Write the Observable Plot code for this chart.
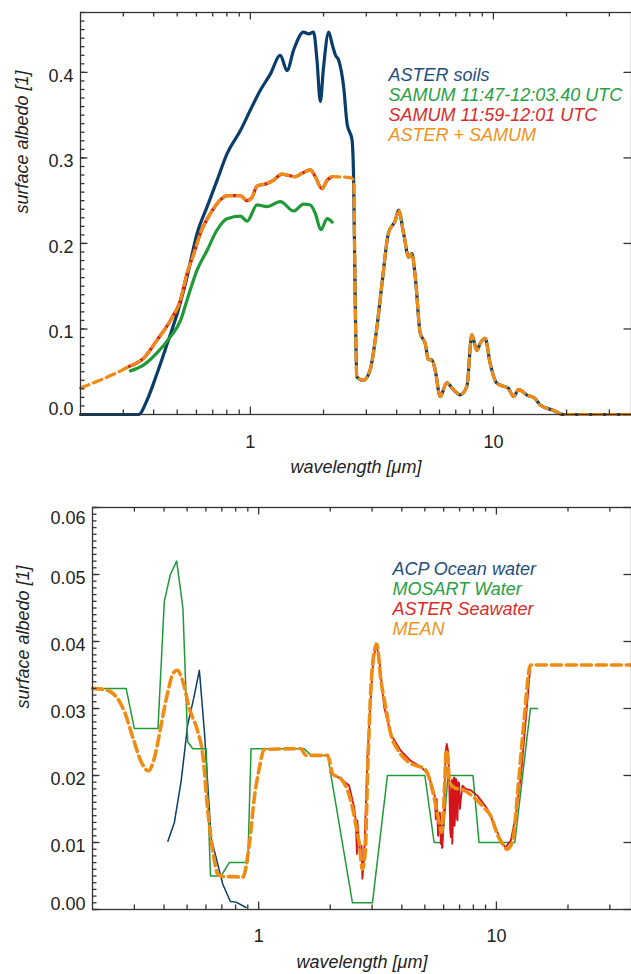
<!DOCTYPE html>
<html><head><meta charset="utf-8">
<script src="https://cdn.jsdelivr.net/npm/d3@7"></script>
<script src="https://cdn.jsdelivr.net/npm/@observablehq/plot@0.6"></script>
<style>
body{margin:0;background:#fff;overflow:hidden}
#chart{width:631px;height:974px;position:relative}
#chart svg{display:block}
</style></head><body><div id="chart"></div>
<script>
// ---------- TOP PANEL DATA (wavelength µm, surface albedo) ----------
const soilWl  = [0.2,0.347,0.376,0.413,0.455,0.5,0.549,0.604,0.664,0.73,0.802,0.91,1.0,1.099,1.208,1.328,1.415,1.506,1.655,1.737,1.82,1.88,1.94,2.0,2.1,2.17,2.24,2.31,2.42,2.5,2.62,2.66,2.7,2.74,2.92,3.11,3.32,3.48,3.7,3.95,4.07,4.27,4.48,4.62,4.77,5.0,5.24,5.41,5.58,5.76,6.04,6.43,6.85,7.3,7.78,8.15,8.55,8.82,9.25,9.69,10.3,11.0,11.5,12.1,12.7,13.7,14.8,15.6,17.6,19.4,37];
const soilAlb = [0,0,0.017,0.048,0.083,0.118,0.161,0.212,0.243,0.274,0.305,0.332,0.356,0.379,0.398,0.42,0.402,0.426,0.447,0.445,0.447,0.414,0.366,0.406,0.447,0.433,0.42,0.414,0.383,0.34,0.321,0.274,0.134,0.044,0.04,0.052,0.103,0.153,0.212,0.227,0.239,0.212,0.184,0.188,0.161,0.095,0.083,0.064,0.064,0.052,0.021,0.037,0.029,0.023,0.033,0.093,0.075,0.083,0.089,0.06,0.037,0.033,0.031,0.021,0.029,0.023,0.019,0.011,0.005,0,0];

const samumAWl  = [0.321,0.364,0.413,0.469,0.516,0.549,0.604,0.664,0.73,0.802,0.91,0.969,1.065,1.17,1.328,1.506,1.655,1.765,1.85,1.95,2.07,2.17];
const samumAAlb = [0.051,0.058,0.072,0.091,0.11,0.134,0.169,0.192,0.216,0.229,0.232,0.226,0.245,0.243,0.249,0.238,0.246,0.245,0.235,0.216,0.229,0.225];

const samumBWl  = [0.316,0.364,0.413,0.469,0.516,0.549,0.585,0.623,0.685,0.753,0.802,0.91,0.969,1.016,1.065,1.17,1.247,1.349,1.415,1.53,1.63,1.765,1.85,1.97,2.07,2.17];
const samumBAlb = [0.056,0.066,0.087,0.11,0.134,0.165,0.188,0.212,0.235,0.251,0.256,0.256,0.25,0.254,0.267,0.27,0.274,0.281,0.28,0.278,0.282,0.286,0.278,0.264,0.274,0.278];

const comboWl  = [0.2,0.316,0.364,0.413,0.469,0.516,0.549,0.585,0.623,0.685,0.753,0.802,0.91,0.969,1.016,1.065,1.17,1.247,1.349,1.415,1.53,1.63,1.765,1.85,1.97,2.07,2.17,2.58,2.66,2.7,2.74,2.92,3.11,3.32,3.48,3.7,3.95,4.07,4.27,4.48,4.62,4.77,5.0,5.24,5.41,5.58,5.76,6.04,6.43,6.85,7.3,7.78,8.15,8.55,8.82,9.25,9.69,10.3,11.0,11.5,12.1,12.7,13.7,14.8,15.6,17.6,19.4,37];
const comboAlb = [0.031,0.056,0.066,0.087,0.11,0.134,0.165,0.188,0.212,0.235,0.251,0.256,0.256,0.25,0.254,0.267,0.27,0.274,0.281,0.28,0.278,0.282,0.286,0.278,0.264,0.274,0.278,0.277,0.274,0.134,0.044,0.04,0.052,0.103,0.153,0.212,0.227,0.239,0.212,0.184,0.188,0.161,0.095,0.083,0.064,0.064,0.052,0.021,0.037,0.029,0.023,0.033,0.093,0.075,0.083,0.089,0.06,0.037,0.033,0.031,0.021,0.029,0.023,0.019,0.011,0.005,0,0];

const topLegend = ["ASTER soils", "SAMUM 11:47-12:03.40 UTC", "SAMUM 11:59-12:01 UTC", "ASTER + SAMUM"];

// ---------- BOTTOM PANEL DATA ----------
const acpWl  = [0.415,0.442,0.472,0.503,0.533,0.563,0.591,0.631,0.706,0.76,0.803,0.885];
const acpAlb = [0.0102,0.013,0.0192,0.0276,0.0315,0.0357,0.0266,0.0107,0.0038,0.0012,0.0011,0.0003];

const mosartWl  = [0.2,0.277,0.3,0.377,0.401,0.425,0.452,0.48,0.503,0.528,0.601,0.627,0.695,0.752,0.9,0.929,1.555,1.66,1.95,2.48,3.01,3.48,5.0,5.47,5.93,6.26,7.97,8.45,11.95,13.9,14.9];
const mosartAlb = [0.033,0.033,0.027,0.027,0.046,0.05,0.052,0.045,0.025,0.024,0.024,0.005,0.005,0.007,0.007,0.024,0.024,0.023,0.023,0.001,0.001,0.02,0.02,0.01,0.01,0.02,0.02,0.01,0.01,0.03,0.03];

const seaWl  = [2.0,2.05,2.22,2.4,2.52,2.56,2.59,2.6,2.65,2.69,2.71,2.73,2.78,2.87,3.01,3.11,3.21,3.37,3.59,3.96,4.36,4.81,5.13,5.38,5.5,5.56,5.6,5.64,5.68,5.74,5.78,5.8,5.83,5.87,5.9,5.93,5.96,6.02,6.07,6.12,6.18,6.26,6.32,6.39,6.43,6.46,6.49,6.52,6.55,6.6,6.64,6.67,6.7,6.75,6.79,6.83,6.86,6.92,6.97,7.02,7.08,7.2,7.43,7.8,8.32,9.17,9.62,10.3,10.9,11.5,12.1,12.7,13.1,13.9];
const seaAlb = [0.0205,0.0202,0.0195,0.0185,0.0153,0.0133,0.0083,0.0133,0.0093,0.0078,0.0095,0.0046,0.0083,0.0233,0.0357,0.0397,0.0377,0.0302,0.0262,0.0237,0.0222,0.0213,0.0203,0.0183,0.017,0.0135,0.0165,0.0148,0.011,0.0123,0.0145,0.0135,0.0098,0.0125,0.0092,0.0093,0.012,0.0143,0.0193,0.0237,0.0247,0.0237,0.0207,0.0118,0.0108,0.0175,0.0193,0.0098,0.0118,0.0195,0.0197,0.0125,0.0138,0.0195,0.0193,0.0135,0.0133,0.019,0.0188,0.015,0.0163,0.0185,0.018,0.0178,0.017,0.015,0.0133,0.0108,0.0092,0.0103,0.0143,0.0203,0.0257,0.0365];

const meanWl  = [0.2,0.232,0.251,0.272,0.296,0.32,0.344,0.364,0.389,0.415,0.436,0.454,0.48,0.511,0.554,0.582,0.611,0.641,0.673,0.718,0.789,0.856,0.914,0.959,1.006,1.056,1.505,1.58,1.95,2.05,2.22,2.37,2.48,2.56,2.65,2.73,2.81,2.87,2.96,3.06,3.14,3.26,3.43,3.6,3.84,4.23,4.66,4.96,5.21,5.47,5.69,5.88,5.98,6.07,6.15,6.2,6.35,6.64,7.3,8.05,8.87,9.46,10.1,10.6,11.1,11.7,12.3,13.1,13.9,37];
const meanAlb = [0.033,0.0327,0.0318,0.0296,0.0256,0.0221,0.0207,0.0226,0.0276,0.0325,0.0352,0.0357,0.034,0.03,0.0266,0.0231,0.0147,0.0088,0.0053,0.0049,0.0049,0.0048,0.0098,0.0167,0.0211,0.0239,0.024,0.023,0.023,0.0202,0.0195,0.0177,0.0152,0.0127,0.0098,0.006,0.0088,0.02,0.0325,0.0385,0.0396,0.0345,0.03,0.0261,0.0239,0.0221,0.0214,0.0211,0.0197,0.0167,0.0137,0.0115,0.0143,0.0193,0.0237,0.0237,0.019,0.0182,0.0178,0.0167,0.0152,0.014,0.0112,0.0098,0.009,0.0102,0.0177,0.0286,0.0365,0.0365];

const bottomLegend = ["ACP Ocean water", "MOSART Water", "ASTER Seawater", "MEAN"];

// ---------- AXES ----------
const xLabelTicks = [1, 10];
const xMinorTicks = [0.3,0.4,0.5,0.6,0.7,0.8,0.9,2,3,4,5,6,7,8,9,20,30];
const yTopMajor = [0, 0.1, 0.2, 0.3, 0.4];
const yBotMajor = [0, 0.01, 0.02, 0.03, 0.04, 0.05, 0.06];
const xTitle = "wavelength [μm]";
const yTitle = "surface albedo [1]";

const lineColors = ["#0a3d6b", "#1f9a36", "#d3141a", "#f08c14"];
const legendColors = ["#1f4e80", "#27a043", "#d92a2a", "#f0921c"];

const pair = (w, a) => w.map((d, i) => ({w: d, a: a[i]}));
const FONT = "'Liberation Sans', Arial, Helvetica, sans-serif";
const AX = "#333";

function axesMarks({fw, fh, yMajor, yMinor, fmt, labelDy, xPad, xTitleDy, yTitleDx, legend, legendDx, legendDy}) {
  const n = yMajor.length;
  const tx = (vals, len, atTop) => Plot.tickX(vals, {x: d => d, stroke: AX, strokeWidth: 1.3,
    insetTop: atTop ? 0 : fh - len, insetBottom: atTop ? fh - len : 0});
  const ty = (vals, len, atRight) => Plot.tickY(vals, {y: d => d, stroke: AX, strokeWidth: 1.3,
    insetLeft: atRight ? fw - len : 0, insetRight: atRight ? 0 : fw - len});
  const m = [
    Plot.frame({stroke: AX, strokeWidth: 1.3}),
    tx(xMinorTicks, 4.5, false),
    tx(xLabelTicks, 7.5, false),
    tx(xMinorTicks, 4.5, true),
    tx(xLabelTicks, 7.5, true),
    ty(yMinor, 4.5, false),
    ty(yMajor, 7.5, false),
    ty(yMajor, 7.5, true),
    Plot.axisX(xLabelTicks, {anchor: "bottom", tickSize: 0, tickPadding: xPad, stroke: "none", fill: "#222", tickFormat: d => String(d), label: null}),
    Plot.axisY([yMajor[0]], {anchor: "left", tickSize: 0, tickPadding: 7, stroke: "none", fill: "#222", tickFormat: fmt, dy: labelDy[0], label: null}),
    Plot.axisY(yMajor.slice(1, labelDy.length === 3 ? n - 1 : n), {anchor: "left", tickSize: 0, tickPadding: 7, stroke: "none", fill: "#222", tickFormat: fmt, dy: labelDy[1], label: null}),
    Plot.text([xTitle], {frameAnchor: "bottom", dy: xTitleDy, text: d => d, fontStyle: "italic", fill: "#222", fontSize: 18}),
    Plot.text([yTitle], {frameAnchor: "left", dx: yTitleDx, rotate: -90, text: d => d, fontStyle: "italic", fill: "#222", fontSize: 18})
  ];
  if (labelDy.length === 3) {
    m.push(Plot.axisY([yMajor[n - 1]], {anchor: "left", tickSize: 0, tickPadding: 7, stroke: "none", fill: "#222", tickFormat: fmt, dy: labelDy[2], label: null}));
  }
  legend.forEach((t, i) => {
    m.push(Plot.text([t], {frameAnchor: "top-left", dx: legendDx, dy: legendDy + 20 * i, text: d => d, textAnchor: "start", fill: legendColors[i], fontStyle: "italic", fontSize: 18}));
  });
  return m;
}

const W = 631;
const T = {h: 490, mt: 12, mb: 76, ml: 80};
const B = {h: 484, mt: 17, mb: 65, ml: 92};

const topPlot = Plot.plot({
  width: W, height: T.h,
  marginTop: T.mt, marginBottom: T.mb, marginLeft: T.ml, marginRight: 0,
  style: {fontFamily: FONT, fontSize: "18px", color: "#222", background: "white"},
  x: {type: "log", domain: [0.2, 37]},
  y: {domain: [0, 0.47]},
  marks: [
    Plot.line(pair(soilWl, soilAlb), {x: "w", y: "a", stroke: lineColors[0], strokeWidth: 3.2, curve: "monotone-x"}),
    Plot.line(pair(samumAWl, samumAAlb), {x: "w", y: "a", stroke: lineColors[1], strokeWidth: 3.2, curve: "monotone-x"}),
    Plot.line(pair(samumBWl, samumBAlb), {x: "w", y: "a", stroke: lineColors[2], strokeWidth: 3.2, curve: "monotone-x"}),
    Plot.line(pair(comboWl, comboAlb), {x: "w", y: "a", stroke: lineColors[3], strokeWidth: 3.2, strokeDasharray: "9,5", curve: "monotone-x"}),
    ...axesMarks({fw: W - T.ml, fh: T.h - T.mt - T.mb, yMajor: yTopMajor, yMinor: d3.range(0, 0.4705, 0.01), fmt: d3.format(".1f"), labelDy: [-5.5, 3.5], xPad: 21, xTitleDy: 58, yTitleDx: -58, legend: topLegend, legendDx: 308, legendDy: 55.5})
  ]
});

const botPlot = Plot.plot({
  width: W, height: B.h,
  marginTop: B.mt, marginBottom: B.mb, marginLeft: B.ml, marginRight: 0,
  style: {fontFamily: FONT, fontSize: "18px", color: "#222", background: "white"},
  x: {type: "log", domain: [0.2, 37]},
  y: {domain: [0, 0.06]},
  marks: [
    Plot.line(pair(acpWl, acpAlb), {x: "w", y: "a", stroke: lineColors[0], strokeWidth: 1.5}),
    Plot.line(pair(mosartWl, mosartAlb), {x: "w", y: "a", stroke: lineColors[1], strokeWidth: 1.5}),
    Plot.line(pair(seaWl, seaAlb), {x: "w", y: "a", stroke: lineColors[2], strokeWidth: 1.8}),
    Plot.line(pair(meanWl, meanAlb), {x: "w", y: "a", stroke: lineColors[3], strokeWidth: 3.6, strokeDasharray: "10,5", curve: "monotone-x"}),
    ...axesMarks({fw: W - B.ml, fh: B.h - B.mt - B.mb, yMajor: yBotMajor, yMinor: d3.range(0, 0.0605, 0.001), fmt: d3.format(".2f"), labelDy: [-5, 3.5, 10.5], xPad: 19.5, xTitleDy: 58, yTitleDx: -69, legend: bottomLegend, legendDx: 300, legendDy: 54.5})
  ]
});

const root = document.getElementById("chart");
root.appendChild(topPlot);
root.appendChild(botPlot);
</script></body></html>
